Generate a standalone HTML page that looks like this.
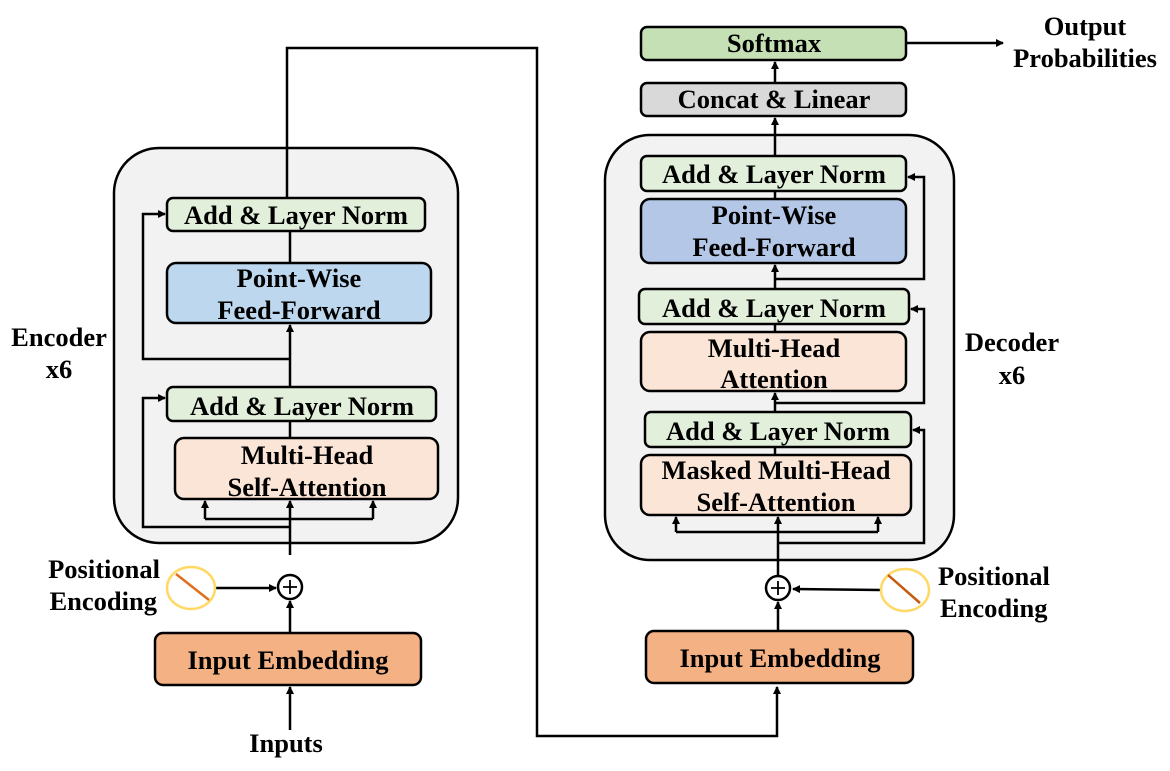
<!DOCTYPE html>
<html><head><style>body{margin:0;background:#fff}</style></head><body>
<svg width="1170" height="766" viewBox="0 0 1170 766" xmlns="http://www.w3.org/2000/svg" font-family="Liberation Serif, serif" font-weight="bold" font-size="26.5">
<defs><marker id="a" markerWidth="8" markerHeight="8" refX="7" refY="4" orient="auto" markerUnits="userSpaceOnUse"><path d="M0,0 L8,4 L0,8 z" fill="#000"/></marker></defs>
<g stroke="#000" stroke-width="2.5">
<rect x="114" y="148" width="344" height="395" rx="45" fill="#f2f2f2"/>
<rect x="605" y="135" width="349" height="425" rx="45" fill="#f2f2f2"/>
</g>
<g stroke="#000" stroke-width="2.5" fill="none">
<polyline points="290,231 290,263"/>
<polyline points="290,387 290,325" marker-end="url(#a)"/>
<polyline points="290,421 290,438"/>
<polyline points="290,555 290,501" marker-end="url(#a)"/>
<polyline points="205,519 373,519"/>
<line x1="205" y1="519" x2="205" y2="501" marker-end="url(#a)"/>
<line x1="373" y1="519" x2="373" y2="501" marker-end="url(#a)"/>
<polyline points="290,527 143,527 143,398 165,398" marker-end="url(#a)"/>
<polyline points="290,359 143,359 143,214 165,214" marker-end="url(#a)"/>
<line x1="290" y1="633" x2="290" y2="601" marker-end="url(#a)"/>
<line x1="290" y1="730" x2="290" y2="687" marker-end="url(#a)"/>
<line x1="216" y1="588" x2="276" y2="588" marker-end="url(#a)"/>
<polyline points="287,198 287,48 537,48 537,736 777,736 777,687" marker-end="url(#a)"/>
<line x1="775" y1="191" x2="775" y2="199"/>
<line x1="775" y1="289" x2="775" y2="265" marker-end="url(#a)"/>
<line x1="775" y1="324" x2="775" y2="332"/>
<line x1="775" y1="412" x2="775" y2="393" marker-end="url(#a)"/>
<line x1="775" y1="447" x2="775" y2="455"/>
<line x1="778" y1="576" x2="778" y2="517" marker-end="url(#a)"/>
<polyline points="676,532 878,532"/>
<line x1="676" y1="532" x2="676" y2="517" marker-end="url(#a)"/>
<line x1="878" y1="532" x2="878" y2="517" marker-end="url(#a)"/>
<polyline points="775,279 924,279 924,177 908,177" marker-end="url(#a)"/>
<polyline points="775,403 924,403 924,309 911,309" marker-end="url(#a)"/>
<polyline points="778,543 924,543 924,430 913,430" marker-end="url(#a)"/>
<line x1="778" y1="631" x2="778" y2="602" marker-end="url(#a)"/>
<line x1="880" y1="590" x2="793" y2="589" marker-end="url(#a)"/>
<line x1="775" y1="156" x2="775" y2="118" marker-end="url(#a)"/>
<line x1="775" y1="83" x2="775" y2="62" marker-end="url(#a)"/>
<line x1="906" y1="43" x2="1003" y2="43" marker-end="url(#a)"/>
</g>
<g stroke="#000" stroke-width="2.5">
<rect x="167" y="198" width="258" height="33" rx="6" fill="#e2efda"/>
<rect x="167" y="263" width="264" height="60" rx="9" fill="#bdd7ee"/>
<rect x="167" y="387" width="269" height="34" rx="6" fill="#e2efda"/>
<rect x="175" y="438" width="263" height="61" rx="9" fill="#fbe5d6"/>
<rect x="155" y="633" width="266" height="52" rx="8" fill="#f4b183"/>
<rect x="641" y="27" width="265" height="33" rx="6" fill="#c5e0b4"/>
<rect x="641" y="83" width="265" height="33" rx="6" fill="#d9d9d9"/>
<rect x="641" y="156" width="265" height="35" rx="6" fill="#e2efda"/>
<rect x="641" y="199" width="265" height="64" rx="9" fill="#b4c7e7"/>
<rect x="639" y="289" width="270" height="35" rx="6" fill="#e2efda"/>
<rect x="641" y="332" width="265" height="59" rx="9" fill="#fbe5d6"/>
<rect x="645" y="412" width="266" height="35" rx="6" fill="#e2efda"/>
<rect x="641" y="455" width="270" height="60" rx="9" fill="#fbe5d6"/>
<rect x="646" y="631" width="267" height="52" rx="8" fill="#f4b183"/>
<circle cx="290" cy="587" r="12" fill="#fff"/>
<circle cx="778" cy="588" r="12" fill="#fff"/>
</g>
<g stroke="#000" stroke-width="1.8"><path d="M283,587h14M290,580v14M771,588h14M778,581v14"/></g>
<ellipse cx="191" cy="588" rx="24" ry="21" fill="#fff" stroke="#ffd966" stroke-width="2.5"/>
<line x1="176" y1="574" x2="209" y2="600" stroke="#e07020" stroke-width="2.5"/>
<ellipse cx="905" cy="590" rx="24" ry="21" fill="#fff" stroke="#ffd966" stroke-width="2.5"/>
<line x1="888" y1="575" x2="920" y2="603" stroke="#c55a11" stroke-width="2.5"/>
<g text-anchor="middle" fill="#000">
<text x="296" y="224">Add &amp; Layer Norm</text>
<text x="299" y="287">Point-Wise</text>
<text x="299" y="319">Feed-Forward</text>
<text x="302" y="415">Add &amp; Layer Norm</text>
<text x="307" y="464">Multi-Head</text>
<text x="307" y="496">Self-Attention</text>
<text x="288" y="669">Input Embedding</text>
<text x="286" y="752">Inputs</text>
<text x="59" y="346">Encoder</text>
<text x="59" y="378">x6</text>
<text x="774" y="52">Softmax</text>
<text x="774" y="108">Concat &amp; Linear</text>
<text x="774" y="183">Add &amp; Layer Norm</text>
<text x="774" y="224">Point-Wise</text>
<text x="774" y="256">Feed-Forward</text>
<text x="774" y="317">Add &amp; Layer Norm</text>
<text x="774" y="357">Multi-Head</text>
<text x="774" y="388">Attention</text>
<text x="778" y="440">Add &amp; Layer Norm</text>
<text x="776" y="479">Masked Multi-Head</text>
<text x="776" y="511">Self-Attention</text>
<text x="780" y="667">Input Embedding</text>
<text x="1012" y="351">Decoder</text>
<text x="1012" y="384">x6</text>
<text x="1085" y="35">Output</text>
<text x="1085" y="67">Probabilities</text>
</g>
<g text-anchor="end"><text x="160" y="578">Positional</text><text x="157" y="610">Encoding</text></g>
<text x="938" y="585">Positional</text><text x="940" y="617">Encoding</text>
</svg>
</body></html>
